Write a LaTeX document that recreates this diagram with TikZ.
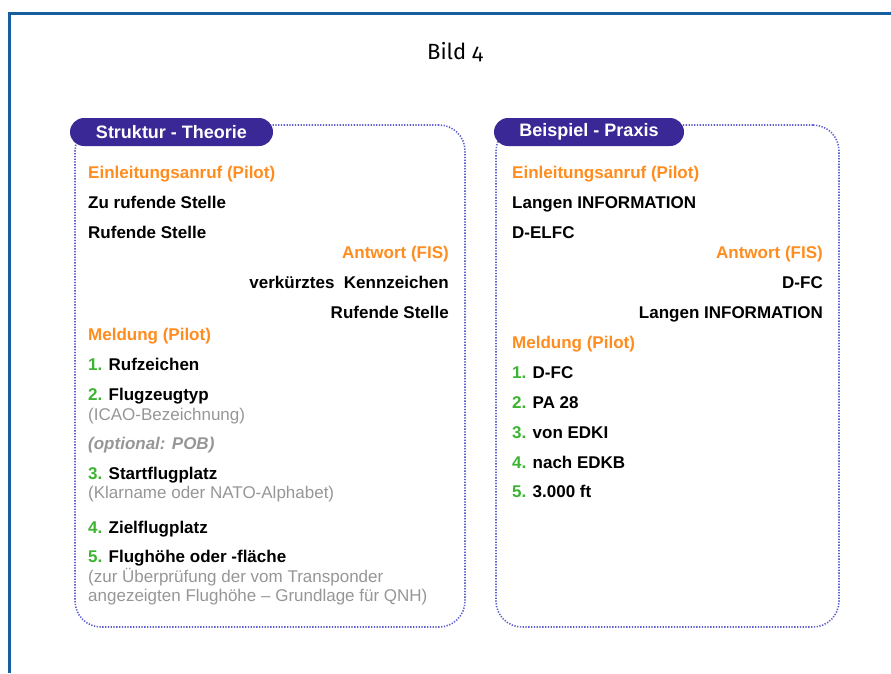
\documentclass[tikz,border=0pt]{standalone}
\usepackage{fontspec}
\setmainfont{Liberation Sans}
\newfontfamily\bildfont[Numbers=OldStyle]{Fira Sans}
\usetikzlibrary{positioning}
\definecolor{rahmen}{RGB}{22,94,158}
\definecolor{reiter}{RGB}{58,40,150}
\definecolor{punkt}{RGB}{95,95,205}
\definecolor{kopf}{RGB}{255,140,30}
\definecolor{nummer}{RGB}{60,180,50}
\definecolor{grau}{RGB}{150,150,150}
\tikzstyle{panel} = [draw=punkt,line width=1.6pt,dash pattern=on 1.3pt off 1.5pt,rounded corners=26pt,minimum width=390pt,minimum height=502pt]
\tikzstyle{tab} = [fill=reiter,text=white,rounded corners=14pt,minimum width=203pt,minimum height=28pt,font=\fontsize{18}{20}\selectfont\bfseries]
\tikzstyle{head} = [anchor=base west,inner sep=0pt,text=kopf,font=\fontsize{17}{20}\selectfont\bfseries]
\tikzstyle{item} = [anchor=base west,inner sep=0pt,font=\fontsize{17}{20}\selectfont\bfseries]
\tikzstyle{note} = [anchor=base west,inner sep=0pt,text=grau,font=\fontsize{17}{20}\selectfont]
\newcommand{\nr}[1]{\textcolor{nummer}{#1}}

\begin{document}
\begin{tikzpicture}[x=1pt,y=-1pt]
				\useasboundingbox (0,0) rectangle (891,673);
				% outer frame, open to the right and bottom
				\draw[rahmen,line width=3pt] (9.5,673) -- (9.5,13.7) -- (891,13.7);
				\node (bild) [anchor=base,inner sep=0pt,font=\bildfont\fontsize{22}{24}\selectfont] at (455,59.3) {Bild 4};
				% left panel
				\node (theorie) [panel] at (270,376) {};
				\node (tabTheorie) [tab,minimum width=203pt] at (171.5,132) {Struktur - Theorie};
				\node (tEinl) [head] at (88,178) {Einleitungsanruf (Pilot)};
				\node (tZu) [item] at (88,208) {Zu rufende Stelle};
				\node (tRuf) [item] at (88,238) {Rufende Stelle};
				\node (tAntw) [head,anchor=base east] at (449,258) {Antwort (FIS)};
				\node (tKenn) [item,anchor=base east] at (449,288) {verkürztes\ \ Kennzeichen};
				\node (tRuf2) [item,anchor=base east] at (449,318) {Rufende Stelle};
				\node (tMeld) [head] at (88,340) {Meldung (Pilot)};
				\node (tEins) [item] at (88,370) {\nr{1.} Rufzeichen};
				\node (tZwei) [item] at (88,400) {\nr{2.} Flugzeugtyp};
				\node (tIcao) [note] at (88,420.5) {(ICAO-Bezeichnung)};
				\node (tPob) [note,font=\fontsize{17}{20}\selectfont\bfseries\itshape] at (88,449.3) {(optional: POB)};
				\node (tDrei) [item] at (88,479.3) {\nr{3.} Startflugplatz};
				\node (tKlar) [note] at (88,498.7) {(Klarname oder NATO-Alphabet)};
				\node (tVier) [item] at (88,533.3) {\nr{4.} Zielflugplatz};
				\node (tFuenf) [item] at (88,562.7) {\nr{5.} Flughöhe oder -fläche};
				\node (tUeber) [note] at (88,582.7) {(zur Überprüfung der vom Transponder};
				\node (tGrund) [note] at (88,601.7) {angezeigten Flughöhe -- Grundlage für QNH)};
				% right panel
				\node (praxis) [panel,minimum width=343pt] at (667.5,376) {};
				\node (tabPraxis) [tab,minimum width=190pt] at (589,132) {Beispiel - Praxis};
				\node (pEinl) [head] at (512,178) {Einleitungsanruf (Pilot)};
				\node (pLangen) [item] at (512,208) {Langen INFORMATION};
				\node (pElfc) [item] at (512,238) {D-ELFC};
				\node (pAntw) [head,anchor=base east] at (823,258) {Antwort (FIS)};
				\node (pFc) [item,anchor=base east] at (823,288) {D-FC};
				\node (pLangen2) [item,anchor=base east] at (823,318.5) {Langen INFORMATION};
				\node (pMeld) [head] at (512,348.5) {Meldung (Pilot)};
				\node (pEins) [item] at (512,378.3) {\nr{1.} D-FC};
				\node (pZwei) [item] at (512,408.3) {\nr{2.} PA 28};
				\node (pDrei) [item] at (512,438.3) {\nr{3.} von EDKI};
				\node (pVier) [item] at (512,468.3) {\nr{4.} nach EDKB};
				\node (pFuenf) [item] at (512,497.7) {\nr{5.} 3.000 ft};
			\end{tikzpicture}
\end{document}
